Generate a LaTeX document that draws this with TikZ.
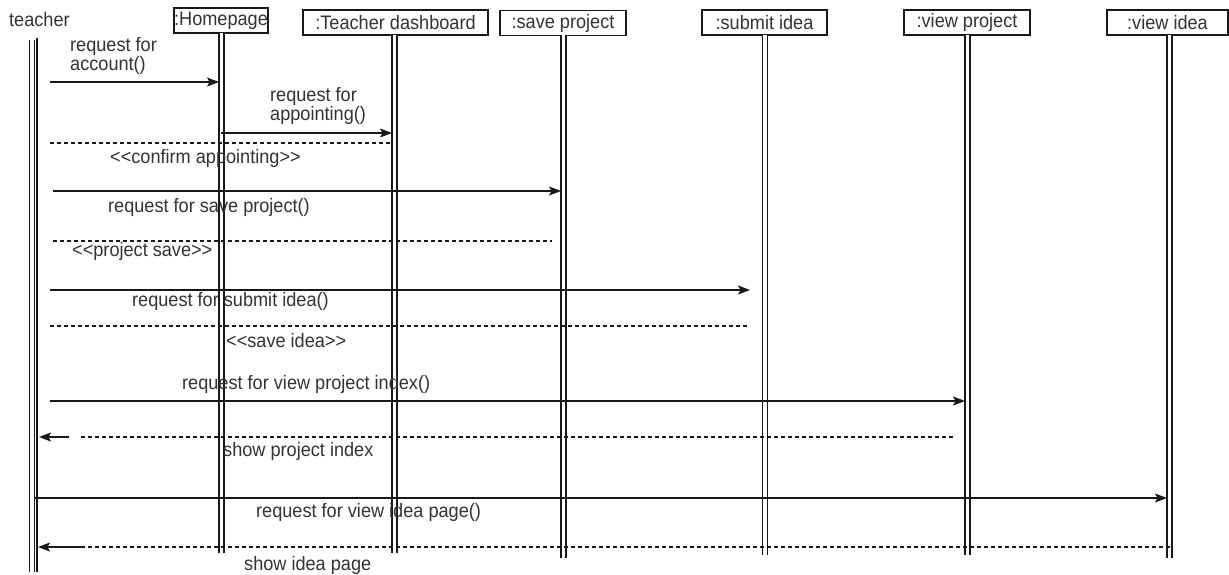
\documentclass[tikz,border=0pt]{standalone}
\usepackage{fontspec}
\setmainfont{Liberation Sans}[FakeStretch=0.93]
\usetikzlibrary{arrows.meta}
\definecolor{txt}{RGB}{51,51,51}
\definecolor{ln}{RGB}{25,25,25}
\begin{document}
\begin{tikzpicture}[x=1pt,y=-1pt,
  lbl/.style={font=\fontsize{19.5}{19}\selectfont, text=txt, inner sep=0pt, anchor=west, align=left},
  head/.style={draw=ln, line width=1.4pt, fill=white, font=\fontsize{19.5}{19}\selectfont, text=txt, inner sep=0pt, minimum height=25pt},
  life/.style={draw=ln, line width=1.3pt, double=white, double distance=3.6pt},
  single/.style={draw=ln, line width=1.3pt},
  msg/.style={draw=ln, line width=1.3pt, -{Stealth[length=12pt,width=9pt,inset=2.5pt]}},
  ret/.style={draw=ln, line width=1.1pt, dash pattern=on 4pt off 3pt}
]
\useasboundingbox[fill=white] (0,0) rectangle (1229,574);

% headers
\node[lbl] (teacher) at (9,20) {teacher};
\node[head, minimum width=94pt]  (hp) at (221,20.5) {:Homepage};
\node[head, minimum width=185pt] (td) at (395.5,22.5) {:Teacher dashboard};
\node[head, minimum width=126pt] (sp) at (563,23) {:save project};
\node[head, minimum width=125pt] (si) at (764.5,22.5) {:submit idea};
\node[head, minimum width=126pt] (vp) at (967,22.5) {:view project};
\node[head, minimum width=121pt] (vi) at (1167.5,22.5) {:view idea};

% lifelines
\coordinate (tT) at (33.5,40);   \coordinate (tB) at (33.5,572);
\coordinate (hpT) at (221.5,33); \coordinate (hpB) at (221.5,553);
\coordinate (tdT) at (394.5,35); \coordinate (tdB) at (394.5,553);
\coordinate (spT) at (563.5,35); \coordinate (spB) at (563.5,558);
\coordinate (siT) at (765,35);   \coordinate (siB) at (765,555);
\coordinate (vpT) at (967.5,35); \coordinate (vpB) at (967.5,555);
\coordinate (viT) at (1169.5,35);\coordinate (viB) at (1169.5,558);

\draw[life] ([xshift=-1.7pt]tT) -- ([xshift=-1.7pt]tB);
\draw[single] ([xshift=3.6pt,yshift=2pt]tT) -- ([xshift=3.6pt]tB);
\draw[life] (hpT) -- (hpB);
\draw[life] (tdT) -- (tdB);
\draw[life] (spT) -- (spB);
\draw[life] (siT) -- (siB);
\draw[life] (vpT) -- (vpB);
\draw[life] (viT) -- (viB);

% message end points
\coordinate (m1s) at (50,82);   \coordinate (m1e) at (219,82);
\coordinate (m2s) at (221,133); \coordinate (m2e) at (392,133);
\coordinate (m3s) at (50,143);  \coordinate (m3e) at (392,143);
\coordinate (m4s) at (53,191);  \coordinate (m4e) at (561,191);
\coordinate (m5s) at (53,241);  \coordinate (m5e) at (552,241);
\coordinate (m6s) at (50,290);  \coordinate (m6e) at (750,290);
\coordinate (m7s) at (50,326);  \coordinate (m7e) at (748,326);
\coordinate (m8s) at (50,401);  \coordinate (m8e) at (965,401);
\coordinate (m9a) at (69,437);  \coordinate (m9h) at (39,437);
\coordinate (m9s) at (81,437);  \coordinate (m9e) at (955,437);
\coordinate (m10s) at (35,498); \coordinate (m10e) at (1167,498);
\coordinate (m11a) at (81,547); \coordinate (m11h) at (38,547);
\coordinate (m11e) at (1170,547);

% messages
\draw[msg] (m1s) -- (m1e);
\draw[msg] (m2s) -- (m2e);
\draw[ret] (m3s) -- (m3e);
\draw[msg] (m4s) -- (m4e);
\draw[ret] (m5s) -- (m5e);
\draw[msg] (m6s) -- (m6e);
\draw[ret] (m7s) -- (m7e);
\draw[msg] (m8s) -- (m8e);
\draw[msg] (m9a) -- (m9h);
\draw[ret] (m9s) -- (m9e);
\draw[msg] (m10s) -- (m10e);
\draw[msg] (m11a) -- (m11h);
\draw[ret] (m11a) -- (m11e);

% labels
\node[lbl] (l1) at (70,56) {request for\\account()};
\node[lbl] (l2) at (270,106) {request for\\appointing()};
\node[lbl] (l3) at (110,158) {<{}<confirm appointing>{}>};
\node[lbl] (l4) at (108,207) {request for save project()};
\node[lbl] (l5) at (72,251) {<{}<project save>{}>};
\node[lbl] (l6) at (132,301) {request for submit idea()};
\node[lbl] (l7) at (226,341) {<{}<save idea>{}>};
\node[lbl] (l8) at (182,384) {request for view project index()};
\node[lbl] (l9) at (223,451) {show project index};
\node[lbl] (l10) at (256,512) {request for view idea page()};
\node[lbl] (l11) at (244,565) {show idea page};
\end{tikzpicture}
\end{document}
